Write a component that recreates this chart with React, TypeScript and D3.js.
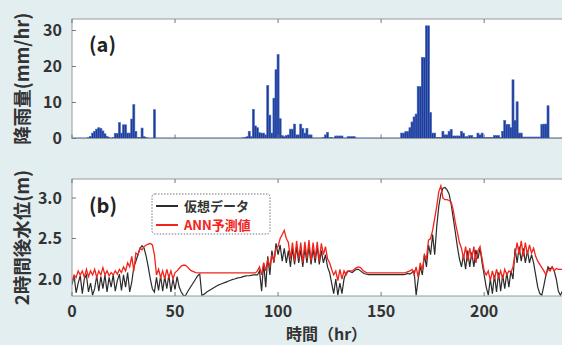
import React from 'react';
import * as d3 from 'd3';

// hourly rainfall (mm/hr), hour 0..240
const rain = [
  0, 0, 0, 0, 0, 0, 0, 0, 0.3, 0.6,
  1.5, 2.0, 2.6, 3.0, 2.8, 2.1, 1.3, 0.6, 0.3, 0,
  0.3, 1.4, 1.4, 4.4, 1.5, 3.8, 3.8, 1.5, 1.5, 5.4,
  9.4, 2.0, 0.3, 0.3, 2.9, 0.5, 0.3, 0, 0, 0,
  8.0, 0, 0, 0, 0, 0, 0, 0, 0, 0,
  0, 0, 0, 0, 0, 0, 0, 0, 0, 0,
  0, 0, 0, 0, 0, 0, 0, 0, 0, 0,
  0, 0, 0, 0, 0, 0, 0, 0, 0, 0,
  0, 0, 0, 0.2, 0.3, 0.5, 2.0, 0.5, 8.1, 3.5,
  3.0, 1.6, 1.5, 1.5, 1.0, 14.7, 6.5, 1.5, 11.2, 19.1,
  23.3, 5.5, 0.8, 0.5, 0.8, 1.0, 2.6, 2.6, 4.0, 1.0,
  1.0, 4.0, 2.8, 1.5, 2.8, 1.0, 1.0, 0.1, 0.1, 0.1,
  0.1, 0.1, 0.3, 1.0, 1.7, 0.3, 0.3, 0.1, 0.7, 0.7,
  0.7, 0.7, 0.1, 0.1, 0.5, 0.5, 0.5, 0.5, 0, 0,
  0, 0, 0, 0, 0, 0, 0, 0, 0, 0,
  0, 0, 0, 0, 0, 0, 0, 0, 0, 0,
  1.5, 1.5, 1.9, 1.9, 3.0, 4.6, 6.0, 6.8, 14.4, 14.4,
  22.5, 22.5, 31.3, 31.3, 7.2, 1.5, 1.5, 0.3, 0.3, 0.3,
  2.0, 1.0, 1.0, 2.0, 2.5, 0.7, 0.7, 0.7, 0.7, 2.0,
  1.5, 0.5, 0.5, 0.8, 0.8, 0.3, 0.3, 1.5, 1.0, 1.5,
  0.3, 0.3, 0.3, 0.3, 0.3, 0.8, 0.8, 0.8, 0.3, 2.0,
  5.0, 3.9, 3.9, 3.0, 16.3, 5.0, 10.2, 1.5, 1.5, 0.4,
  0.4, 0.4, 0.4, 0.4, 0.4, 0.4, 0.4, 0.4, 3.9, 4.0,
  4.0, 9.1, 0, 0, 0, 0, 0, 0, 0, 0, 0,
];

// water level 2 hours later (m): synthetic data
const obsLevel = [
  1.93, 2.04, 1.83, 1.95, 2.04, 1.82, 2.00, 2.05, 1.84, 1.95,
  1.80, 1.88, 2.04, 1.85, 2.03, 1.88, 2.05, 1.84, 2.02, 1.90,
  2.05, 1.85, 1.98, 2.06, 1.86, 2.05, 1.90, 2.08, 1.84, 1.96,
  2.15, 2.22, 2.30, 2.38, 2.41, 2.38, 2.28, 2.15, 2.00, 1.88,
  1.84, 2.02, 1.86, 2.04, 1.85, 2.03, 1.88, 2.05, 1.84, 2.00,
  1.87, 2.03, 1.90, 1.84, 1.80, 1.79, 1.84, 1.88, 1.92, 1.96,
  2.00, 2.04, 2.06, 1.80, 1.81, 1.83, 1.85, 1.865, 1.88, 1.895,
  1.91, 1.925, 1.935, 1.945, 1.955, 1.965, 1.975, 1.985, 1.995, 2.00,
  2.01, 2.015, 2.02, 2.03, 2.035, 2.04, 2.04, 2.045, 2.05, 2.05,
  2.05, 2.10, 1.85, 2.20, 1.90, 2.28, 2.05, 2.35, 2.20, 2.44,
  2.30, 2.42, 2.22, 2.38, 2.20, 2.35, 2.15, 2.38, 2.18, 2.40,
  2.20, 2.36, 2.15, 2.38, 2.20, 2.40, 2.18, 2.37, 2.20, 2.40,
  2.18, 2.35, 2.20, 2.30, 2.15, 2.08, 1.95, 1.82, 2.00, 1.80,
  1.95, 1.82, 2.00, 2.08, 2.10, 2.09, 2.08, 2.10, 2.12, 2.12,
  2.10, 2.08, 2.065, 2.06, 2.055, 2.055, 2.055, 2.055, 2.055, 2.055,
  2.055, 2.055, 2.055, 2.055, 2.055, 2.055, 2.055, 2.055, 2.055, 2.055,
  2.055, 2.055, 2.06, 2.07, 2.06, 2.08, 2.10, 1.80, 2.00, 2.15,
  2.05, 2.30, 2.15, 2.42, 2.30, 2.55, 2.30, 2.65, 2.90, 3.05,
  3.12, 3.13, 3.10, 3.05, 2.92, 2.75, 2.58, 2.40, 2.25, 2.15,
  2.30, 2.12, 2.35, 2.15, 2.33, 2.15, 2.36, 2.25, 2.38, 2.20,
  2.05, 1.90, 1.80, 2.00, 1.82, 2.05, 1.84, 2.08, 1.85, 2.05,
  1.88, 2.08, 1.90, 2.10, 2.00, 2.38, 2.20, 2.40, 2.22, 2.38,
  2.20, 2.35, 2.20, 2.30, 2.20, 2.05, 1.90, 1.82, 1.80, 1.92,
  2.05, 2.15, 2.12, 2.15, 2.10, 2.00, 1.85, 1.80, 1.85, 1.95, 2.05,
];

// ANN prediction (m)
const annLevel = [
  1.97, 2.05, 2.02, 2.10, 2.05, 2.10, 2.02, 2.12, 2.03, 2.10,
  2.05, 2.12, 2.02, 2.10, 2.05, 2.14, 2.05, 2.10, 2.04, 2.08,
  2.05, 2.10, 2.06, 2.12, 2.08, 2.15, 2.10, 2.20, 2.15, 2.28,
  2.10, 2.32, 2.30, 2.38, 2.36, 2.40, 2.42, 2.43, 2.44, 2.42,
  2.30, 2.05, 2.12, 2.02, 2.10, 2.00, 2.12, 2.02, 2.10, 2.00,
  2.08, 2.10, 2.13, 2.16, 2.17, 2.17, 2.15, 2.12, 2.10, 2.09,
  2.08, 2.075, 2.075, 2.075, 2.075, 2.075, 2.075, 2.075, 2.075, 2.075,
  2.075, 2.075, 2.075, 2.075, 2.075, 2.075, 2.075, 2.075, 2.075, 2.075,
  2.075, 2.075, 2.075, 2.075, 2.075, 2.075, 2.075, 2.075, 2.075, 2.075,
  2.10, 2.15, 2.05, 2.20, 2.10, 2.25, 2.15, 2.30, 2.22, 2.38,
  2.40, 2.50, 2.55, 2.60, 2.50, 2.45, 2.25, 2.45, 2.22, 2.47,
  2.25, 2.45, 2.20, 2.46, 2.25, 2.48, 2.22, 2.45, 2.25, 2.46,
  2.22, 2.44, 2.30, 2.40, 2.25, 2.20, 2.12, 2.05, 2.10, 1.98,
  2.12, 2.00, 2.10, 2.05, 2.10, 2.10, 2.10, 2.12, 2.14, 2.15,
  2.14, 2.11, 2.09, 2.08, 2.075, 2.075, 2.075, 2.075, 2.075, 2.075,
  2.075, 2.075, 2.075, 2.075, 2.075, 2.075, 2.075, 2.075, 2.075, 2.075,
  2.075, 2.075, 2.08, 2.09, 2.10, 2.12, 2.05, 2.15, 2.02, 2.20,
  2.10, 2.30, 2.25, 2.48, 2.50, 2.60, 2.75, 2.90, 3.08, 3.15,
  3.00, 2.98, 2.98, 2.97, 2.95, 2.85, 2.70, 2.58, 2.45, 2.38,
  2.25, 2.40, 2.22, 2.38, 2.25, 2.40, 2.20, 2.35, 2.40, 2.25,
  2.10, 2.05, 2.10, 1.98, 2.10, 2.00, 2.12, 2.02, 2.10, 2.00,
  2.12, 2.05, 2.10, 2.08, 2.15, 2.30, 2.45, 2.30, 2.47, 2.28,
  2.45, 2.30, 2.42, 2.32, 2.38, 2.28, 2.22, 2.18, 2.14, 2.10,
  2.05, 2.12, 2.10, 2.15, 2.10, 2.13, 2.12, 2.12, 2.12, 2.12, 2.12,
];

const xTicks = [0, 50, 100, 150, 200, 250];
const rainTicks = [0, 10, 20, 30];
const levelTicks = [2.0, 2.5, 3.0];
const seriesNames = ['仮想データ', 'ANN予測値'];
const seriesColors = ['#2b2b2b', '#f2231b'];

const W = 562, H = 345;
const left = 72, right = 581;
const topA = 19, botA = 138.5;
const topB = 179, botB = 296;
const font = '"Noto Sans CJK JP", "Noto Sans", sans-serif';

export default function App() {
  const x = d3.scaleLinear().domain([0, 247]).range([left, right]);
  const yA = d3.scaleLinear().domain([0, 33.2]).range([botA, topA]);
  const yB = d3.scaleLinear().domain([1.79, 3.235]).range([botB, topB]);
  const bw = x(1) - x(0);

  const line = d3.line<number>()
    .x((d, i) => x(i))
    .y(d => yB(d));

  const tickStyle = { fontFamily: font, fontWeight: 700, fontSize: 16, fill: '#333' };
  const panelStyle = { fontFamily: font, fontWeight: 700, fontSize: 20, fill: '#222' };
  const axisStyle = { fontFamily: font, fontWeight: 700, fontSize: 18.5, fill: '#333' };
  // only label ticks whose text fits in the picture
  const labelled = xTicks.filter(t => x(t) + 12 < W);

  return (
    <svg width={W} height={H} style={{ position: 'absolute', left: 0, top: 0 }}>
      <defs>
        <clipPath id="clipA"><rect x={left} y={topA} width={right - left} height={botA - topA} /></clipPath>
        <clipPath id="clipB"><rect x={left} y={topB} width={right - left} height={botB - topB} /></clipPath>
      </defs>
      <rect width={W} height={H} fill="#e3eef0" />

      {/* (a) rainfall */}
      <rect x={left} y={topA} width={right - left} height={botA - topA} fill="#fff" />
      <g clipPath="url(#clipA)">
        <line x1={left} x2={right} y1={botA - 0.5} y2={botA - 0.5} stroke="#3a5cb5" strokeWidth={1} />
        {rain.map((v, i) => v > 0 ? (
          <rect key={i} x={x(i - 0.5)} y={yA(v)} width={bw} height={botA - yA(v)}
            fill="#1d3c97" stroke="#4466c0" strokeWidth={0.6} />
        ) : null)}
      </g>
      <rect x={left} y={topA} width={right - left} height={botA - topA} fill="none" stroke="#9a9a9a" />
      {xTicks.map(t => (
        <g key={t}>
          <line x1={x(t)} x2={x(t)} y1={topA} y2={topA + 4} stroke="#777" />
          <line x1={x(t)} x2={x(t)} y1={botA} y2={botA - 4} stroke="#777" />
        </g>
      ))}
      {rainTicks.map(t => (
        <g key={t}>
          <line x1={left} x2={left + 4} y1={yA(t)} y2={yA(t)} stroke="#777" />
          <text x={left - 10} y={yA(t)} dy="0.36em" textAnchor="end" style={tickStyle}>{t}</text>
        </g>
      ))}
      <text x={89} y={52} style={panelStyle}>(a)</text>
      <text transform={`translate(22,${(topA + botA) / 2}) rotate(-90)`} textAnchor="middle" dy="0.36em"
        style={axisStyle}>降雨量(mm/hr)</text>

      {/* (b) water level */}
      <rect x={left} y={topB} width={right - left} height={botB - topB} fill="#fff" />
      <g clipPath="url(#clipB)">
        <path d={line(obsLevel) || ''} fill="none" stroke={seriesColors[0]} strokeWidth={1.2} />
        <path d={line(annLevel) || ''} fill="none" stroke={seriesColors[1]} strokeWidth={1.3} />
      </g>
      <rect x={left} y={topB} width={right - left} height={botB - topB} fill="none" stroke="#9a9a9a" />
      {xTicks.map(t => (
        <g key={t}>
          <line x1={x(t)} x2={x(t)} y1={topB} y2={topB + 4} stroke="#777" />
          <line x1={x(t)} x2={x(t)} y1={botB} y2={botB - 4} stroke="#777" />
        </g>
      ))}
      {labelled.map(t => (
        <text key={t} x={x(t)} y={317} textAnchor="middle" style={tickStyle}>{t}</text>
      ))}
      {levelTicks.map(t => (
        <g key={t}>
          <line x1={left} x2={left + 4} y1={yB(t)} y2={yB(t)} stroke="#777" />
          <text x={left - 10} y={yB(t)} dy="0.36em" textAnchor="end" style={tickStyle}>{t.toFixed(1)}</text>
        </g>
      ))}
      <text x={89} y={213} style={panelStyle}>(b)</text>
      <text transform={`translate(22,${(topB + botB) / 2}) rotate(-90)`} textAnchor="middle" dy="0.36em"
        style={axisStyle}>2時間後水位(m)</text>

      {/* legend */}
      <rect x={152} y={194} width={118} height={40} rx={3} fill="#fff" stroke="#777" strokeDasharray="1.5 1.5" />
      {seriesNames.map((name, i) => {
        const ly = 206 + i * 19;
        return (
          <g key={name}>
            <line x1={156} x2={178} y1={ly} y2={ly} stroke={seriesColors[i]} strokeWidth={2} />
            <text x={184} y={ly} dy="0.36em"
              style={{ fontFamily: font, fontWeight: 700, fontSize: 13, fill: i === 0 ? '#333' : seriesColors[1] }}>{name}</text>
          </g>
        );
      })}

      <text x={(left + right) / 2} y={340} textAnchor="middle"
        style={{ fontFamily: font, fontWeight: 700, fontSize: 16, fill: '#333' }}>時間（hr）</text>
    </svg>
  );
}
